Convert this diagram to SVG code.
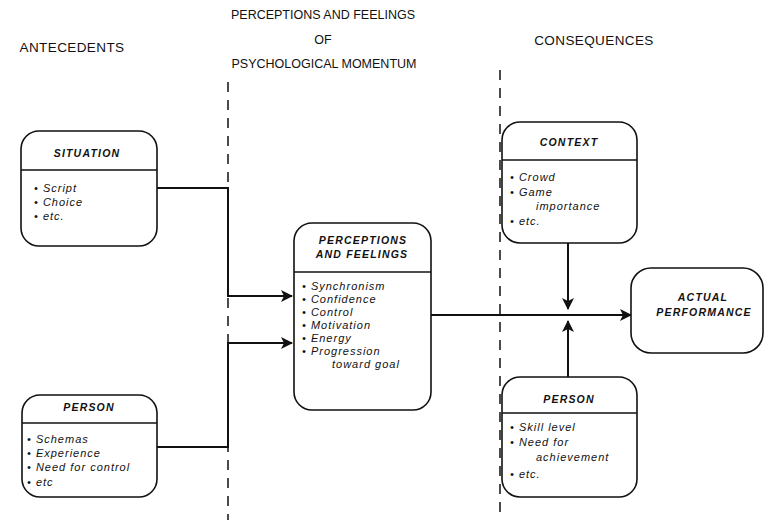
<svg xmlns="http://www.w3.org/2000/svg" width="766" height="520" viewBox="0 0 766 520">
<style>
.bg{fill:#fff}
.title{font-family:"Liberation Sans",Arial,sans-serif;font-size:12.5px;fill:#111}
.title2{font-family:"Liberation Sans",Arial,sans-serif;font-size:13.5px;letter-spacing:0.4px;fill:#111}
.box{fill:#fff;stroke:#111;stroke-width:1.6}
.hdr{stroke:#111;stroke-width:1.6}
.bt{font-family:"Liberation Sans",Arial,sans-serif;font-size:10.5px;font-style:italic;font-weight:bold;letter-spacing:1.2px;fill:#111}
.it{font-family:"Liberation Sans",Arial,sans-serif;font-size:11px;font-style:italic;letter-spacing:1px;fill:#111}
.conn{fill:none;stroke:#111;stroke-width:2}
.dash{fill:none;stroke:#111;stroke-width:1.5;stroke-dasharray:10 8}
</style>
<defs>
<marker id="arr" viewBox="0 0 12 12" refX="11" refY="6" markerWidth="12" markerHeight="12" markerUnits="userSpaceOnUse" orient="auto">
<path d="M0,0 L12,6 L0,12 L3,6 Z" fill="#111"/>
</marker>
</defs>
<rect class="bg" x="0" y="0" width="766" height="520"/>

<g id="headings">
<text class="title2" x="72" y="52" text-anchor="middle">ANTECEDENTS</text>
<text class="title" x="323" y="19" text-anchor="middle">PERCEPTIONS AND FEELINGS</text>
<text class="title" x="323" y="44" text-anchor="middle">OF</text>
<text class="title" x="324" y="68" text-anchor="middle">PSYCHOLOGICAL MOMENTUM</text>
<text class="title2" x="594" y="45" text-anchor="middle">CONSEQUENCES</text>
</g>

<g id="dividers">
<line class="dash" x1="228" y1="82" x2="228" y2="520"/>
<line class="dash" x1="500" y1="70" x2="500" y2="520"/>
</g>

<g id="connectors">
<path class="conn" d="M157,188 H228 V296 H292" marker-end="url(#arr)"/>
<path class="conn" d="M157,447 H228 V343 H292" marker-end="url(#arr)"/>
<path class="conn" d="M431,315 H631" marker-end="url(#arr)"/>
<path class="conn" d="M568,243 V309" marker-end="url(#arr)"/>
<path class="conn" d="M568,377 V321" marker-end="url(#arr)"/>
</g>

<g id="situation">
<rect class="box" x="21" y="131" width="136" height="115" rx="18"/>
<line class="hdr" x1="21" y1="170" x2="157" y2="170"/>
<text class="bt" x="87" y="157" text-anchor="middle">SITUATION</text>
<text class="it" x="34" y="192">• Script</text>
<text class="it" x="34" y="206">• Choice</text>
<text class="it" x="34" y="220">• etc.</text>
</g>

<g id="person-antecedent">
<rect class="box" x="22" y="395" width="135" height="102" rx="18"/>
<line class="hdr" x1="22" y1="423" x2="157" y2="423"/>
<text class="bt" x="89" y="411" text-anchor="middle">PERSON</text>
<text class="it" x="27" y="443">• Schemas</text>
<text class="it" x="27" y="457">• Experience</text>
<text class="it" x="27" y="471">• Need for control</text>
<text class="it" x="27" y="486">• etc</text>
</g>

<g id="perceptions">
<rect class="box" x="294" y="223" width="137" height="187" rx="18"/>
<line class="hdr" x1="294" y1="272" x2="431" y2="272"/>
<text class="bt" x="363" y="244" text-anchor="middle">PERCEPTIONS</text>
<text class="bt" x="362" y="258" text-anchor="middle">AND FEELINGS</text>
<text class="it" x="302" y="290">• Synchronism</text>
<text class="it" x="302" y="303">• Confidence</text>
<text class="it" x="302" y="316">• Control</text>
<text class="it" x="302" y="329">• Motivation</text>
<text class="it" x="302" y="342">• Energy</text>
<text class="it" x="302" y="355">• Progression</text>
<text class="it" x="332" y="368">toward goal</text>
</g>

<g id="context">
<rect class="box" x="502" y="122" width="135" height="121" rx="18"/>
<line class="hdr" x1="502" y1="160" x2="637" y2="160"/>
<text class="bt" x="569" y="146" text-anchor="middle">CONTEXT</text>
<text class="it" x="510" y="181">• Crowd</text>
<text class="it" x="510" y="196">• Game</text>
<text class="it" x="536" y="210">importance</text>
<text class="it" x="510" y="225">• etc.</text>
</g>

<g id="person-consequence">
<rect class="box" x="502" y="377" width="135" height="120" rx="18"/>
<line class="hdr" x1="502" y1="413" x2="637" y2="413"/>
<text class="bt" x="569" y="403" text-anchor="middle">PERSON</text>
<text class="it" x="510" y="431">• Skill level</text>
<text class="it" x="510" y="446">• Need for</text>
<text class="it" x="536" y="461">achievement</text>
<text class="it" x="510" y="478">• etc.</text>
</g>

<g id="actual-performance">
<rect class="box" x="631" y="268" width="132" height="85" rx="20"/>
<text class="bt" x="703" y="301" text-anchor="middle">ACTUAL</text>
<text class="bt" x="704" y="316" text-anchor="middle">PERFORMANCE</text>
</g>
</svg>
